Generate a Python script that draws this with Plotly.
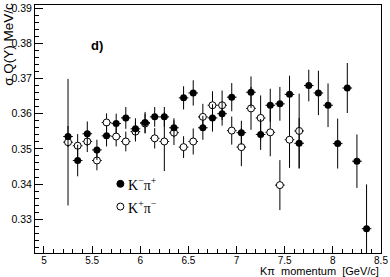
import plotly.graph_objects as go

# K- pi+ (filled)
x_minus = [5.25, 5.35, 5.45, 5.55, 5.65, 5.75, 5.85, 5.95, 6.05, 6.15, 6.25, 6.35, 6.45, 6.55, 6.65, 6.75,
           6.85, 6.95, 7.05, 7.15, 7.25, 7.35, 7.45, 7.55, 7.65, 7.75, 7.85, 7.95, 8.05, 8.15, 8.25, 8.35]
y_minus = [0.3535, 0.3467, 0.3543, 0.3497, 0.3537, 0.3572, 0.3588, 0.3557, 0.3575, 0.3591, 0.3591, 0.3560,
           0.3645, 0.3659, 0.3560, 0.3588, 0.3600, 0.3647, 0.3546, 0.3661, 0.3541, 0.3624, 0.3628, 0.3655,
           0.3516, 0.3680, 0.3659, 0.3624, 0.3515, 0.3673, 0.3465, 0.3273]
e_minus = [0.0030, 0.0045, 0.0035, 0.0029, 0.0030, 0.0028, 0.0031, 0.0030, 0.0030, 0.0028, 0.0028, 0.0027,
           0.0033, 0.0036, 0.0034, 0.0039, 0.0034, 0.0040, 0.0034, 0.0045, 0.0044, 0.0047, 0.0048, 0.0053,
           0.0072, 0.0045, 0.0063, 0.0062, 0.0071, 0.0071, 0.0076, 0.0126]

# K+ pi- (open)
x_plus = [5.25, 5.35, 5.45, 5.55, 5.65, 5.75, 5.85, 5.95, 6.05, 6.15, 6.25, 6.35, 6.45, 6.55, 6.65, 6.75,
          6.85, 6.95, 7.05, 7.15, 7.25, 7.35, 7.45, 7.55, 7.65]
y_plus = [0.3519, 0.3509, 0.3521, 0.3467, 0.3575, 0.3535, 0.3521, 0.3549, 0.3572, 0.3530, 0.3521, 0.3546,
          0.3505, 0.3521, 0.3591, 0.3624, 0.3624, 0.3552, 0.3505, 0.3615, 0.3588, 0.3547, 0.3397, 0.3526,
          0.3551]
e_plus = [0.0180, 0.0033, 0.0030, 0.0028, 0.0026, 0.0028, 0.0028, 0.0028, 0.0028, 0.0029, 0.0084, 0.0035,
          0.0031, 0.0037, 0.0037, 0.0040, 0.0042, 0.0040, 0.0054, 0.0061, 0.0064, 0.0068, 0.0071, 0.0080,
          0.0106]
bin_half = 0.05

x_ticks = [5, 5.5, 6, 6.5, 7, 7.5, 8, 8.5]
y_ticks = [0.33, 0.34, 0.35, 0.36, 0.37, 0.38, 0.39]

FONT = "Liberation Sans, Arial, sans-serif"
SERIF = "Liberation Serif, Times New Roman, serif"

fig = go.Figure()
fig.add_trace(go.Scatter(
    x=x_plus, y=y_plus, mode="markers",
    marker=dict(symbol="circle", size=7, color="white", line=dict(color="black", width=1)),
    error_y=dict(type="data", array=e_plus, color="black", thickness=1, width=0),
    error_x=dict(type="constant", value=bin_half, color="black", thickness=1, width=0),
    showlegend=False))
fig.add_trace(go.Scatter(
    x=x_minus, y=y_minus, mode="markers",
    marker=dict(symbol="circle", size=7, color="black", line=dict(color="black", width=0)),
    error_y=dict(type="data", array=e_minus, color="black", thickness=1, width=0),
    error_x=dict(type="constant", value=bin_half, color="black", thickness=1, width=0),
    showlegend=False))

L, R, T, B = 35, 6.5, 2, 24
W, H = 390, 277
pw, ph = W - L - R, H - T - B

def px(xp):
    return (xp - L) / pw

def py(yp):
    return (H - B - yp) / ph

fig.update_layout(
    width=W, height=H,
    margin=dict(l=L, r=R, t=T, b=B),
    paper_bgcolor="white", plot_bgcolor="white",
    font=dict(family=FONT, color="black"),
    xaxis=dict(range=[4.907, 8.5], tickvals=x_ticks, ticks="inside", ticklen=7, tickwidth=1,
               tickcolor="black", showline=True, linecolor="black", linewidth=1, mirror=True,
               showgrid=False, zeroline=False, tickfont=dict(size=10, family=FONT),
               ticklabeloverflow="allow", ticklabelstandoff=-2,
               minor=dict(dtick=0.1, tick0=5, ticks="inside", ticklen=4, tickcolor="black", showgrid=False)),
    yaxis=dict(range=[0.3204, 0.3909], tickvals=y_ticks, ticks="inside", ticklen=8, tickwidth=1,
               tickcolor="black", showline=True, linecolor="black", linewidth=1, mirror=True,
               showgrid=False, zeroline=False, tickfont=dict(size=10.5, family=FONT),
               tickformat=".2f", ticklabeloverflow="allow",
               minor=dict(dtick=0.002, tick0=0.33, ticks="inside", ticklen=4, tickcolor="black", showgrid=False)),
)

ann = []
ann.append(dict(text="σ Q(Y) MeV/c", x=px(8), y=py(42), xref="paper", yref="paper",
                textangle=-90, showarrow=False, font=dict(size=13.5, family=FONT),
                xanchor="center", yanchor="middle"))
ann.append(dict(text="Kπ\u00a0\u00a0momentum\u00a0\u00a0[GeV/c]", x=1.0, y=py(271), xref="paper", yref="paper",
                showarrow=False, font=dict(size=11, family=FONT), xanchor="right", yanchor="middle"))
ann.append(dict(text="<b>d)</b>", x=px(97), y=py(43), xref="paper", yref="paper",
                showarrow=False, font=dict(size=13, family=FONT), xanchor="center", yanchor="middle"))
ann.append(dict(text="K<sup>−</sup>π<sup>+</sup>", x=px(127), y=py(183), xref="paper", yref="paper",
                showarrow=False, font=dict(size=14, family=SERIF), xanchor="left", yanchor="middle"))
ann.append(dict(text="K<sup>+</sup>π<sup>−</sup>", x=px(127), y=py(206), xref="paper", yref="paper",
                showarrow=False, font=dict(size=14, family=SERIF), xanchor="left", yanchor="middle"))
fig.update_layout(annotations=ann)

shapes = []
shapes.append(dict(type="circle", xref="paper", yref="paper", xsizemode="pixel", ysizemode="pixel",
                   xanchor=px(121), yanchor=py(183), x0=-3.5, x1=3.5, y0=-3.5, y1=3.5,
                   fillcolor="black", line=dict(color="black", width=1)))
shapes.append(dict(type="circle", xref="paper", yref="paper", xsizemode="pixel", ysizemode="pixel",
                   xanchor=px(121), yanchor=py(206), x0=-3.5, x1=3.5, y0=-3.5, y1=3.5,
                   fillcolor="white", line=dict(color="black", width=1)))
fig.update_layout(shapes=shapes)

fig.write_html("out.html", config={"displayModeBar": False},
               post_script="document.body.style.margin='0';document.body.style.overflow='hidden';")
